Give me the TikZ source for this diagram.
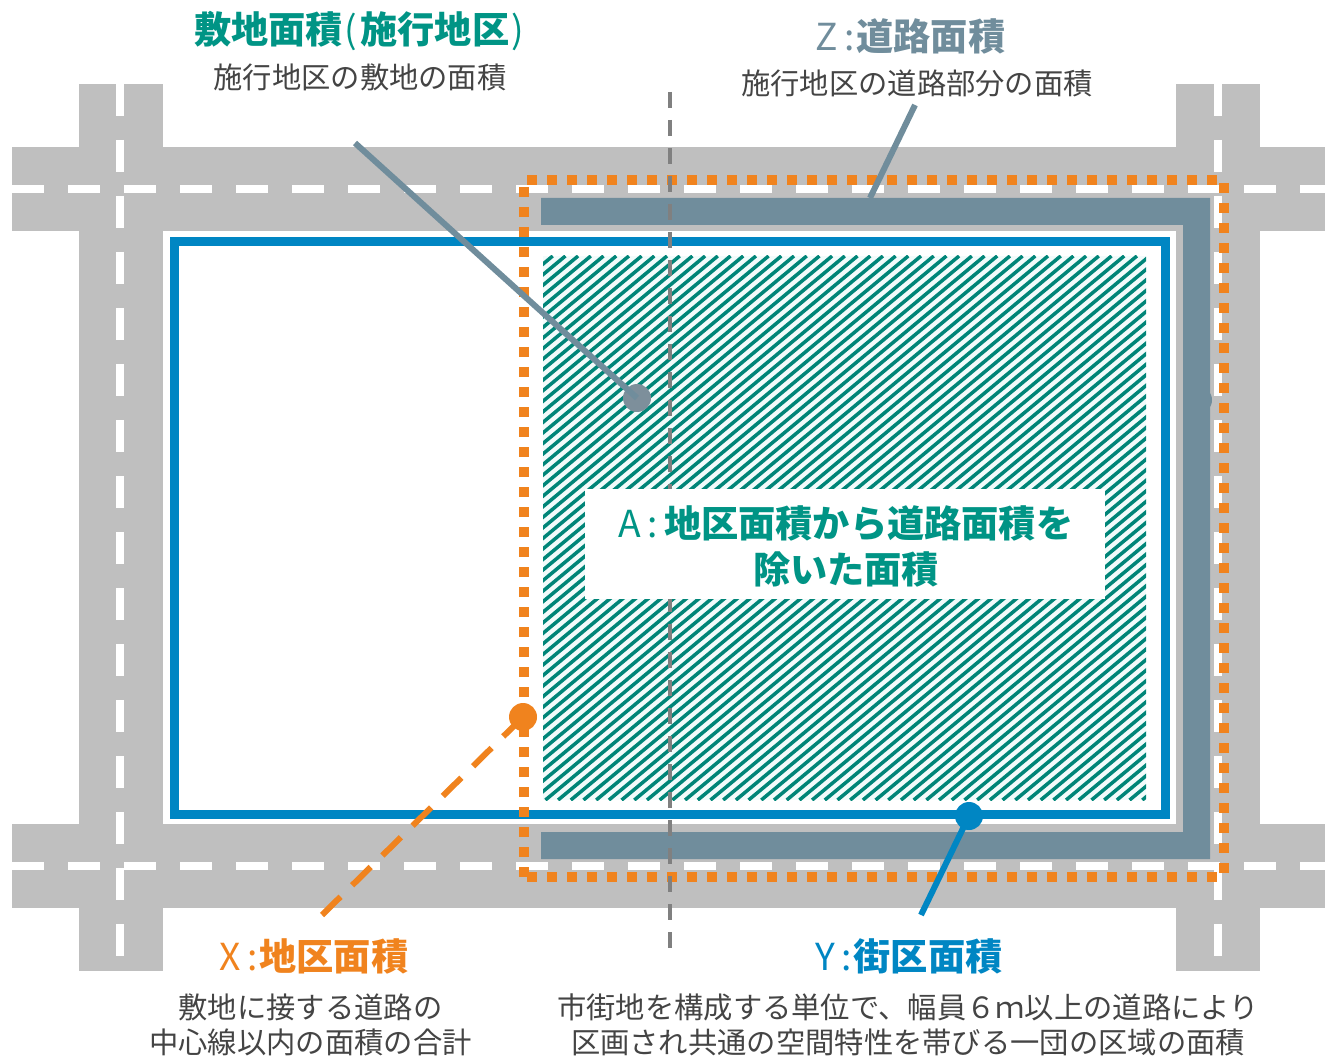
\documentclass[tikz,border=0pt]{standalone}
\usepackage{fontspec}
\setmainfont{Noto Sans CJK JP}
\usepackage{tikz}
\usetikzlibrary{positioning}

\definecolor{roadgray}{HTML}{BFBFBF}
\definecolor{slate}{HTML}{708D9C}
\definecolor{pin}{HTML}{7D8F9B}
\definecolor{district}{HTML}{F0831E}
\definecolor{block}{HTML}{0086C3}
\definecolor{site}{HTML}{009485}
\definecolor{body}{HTML}{444444}
\definecolor{hatchbg}{HTML}{F2FBFB}

\begin{document}
\begin{tikzpicture}[x=1pt,y=-1pt,on grid,
    road/.style={fill=roadgray},
    laneline/.style={white,line width=8pt,dash pattern=on 32pt off 24pt},
    bound/.style={district,line width=10pt,dash pattern=on 10pt off 10pt},
    center_line/.style={gray,line width=4.7pt,dash pattern=on 16pt off 12pt},
    leader/.style={line width=6pt},
    pin_dot/.style={circle,inner sep=0pt,minimum size=28pt},
    heading/.style={inner sep=0pt,font=\fontsize{37.2pt}{46pt}\selectfont,align=center},
    note/.style={inner sep=0pt,text=body,font=\fontsize{29.3pt}{35.5pt}\selectfont,align=center}]
    \useasboundingbox (0,0) rectangle (1325,1056);

    % roads
    \path[road] (12,147) rectangle (1325,231);
    \path[road] (12,824) rectangle (1325,908);
    \path[road] (79,84) rectangle (163,971);
    \path[road] (1176,84) rectangle (1260,971);
    \foreach \y in {189,866}
      \draw[laneline] (12,\y) -- (1325,\y);
    \foreach \x in {120,1218}
      \draw[laneline] (\x,84) -- (\x,971);

    % road area of the district
    \fill[slate] (541,198) -| (1210,859) -| (541,832) -| (1183,225) -| cycle;
    \node[pin_dot,fill=slate] (p_road) at (1198,400) {};

    % block
    \draw[block,line width=9pt] (174.5,242) rectangle (1165.5,814.5);

    % site area
    \fill[hatchbg] (543,256) rectangle (1146,800);
    \begin{scope}
      \clip (543,256) rectangle (1146,800);
      \foreach \i in {0,...,100}
        \draw[site!90!black,line width=3.5pt] ({-115+12.7*\i},800) -- ({540+12.7*\i},256);
    \end{scope}

    % district boundary
    \coordinate (b_tl) at (527,180);
    \coordinate (b_tr) at (1217,180);
    \coordinate (b_bl) at (527,876.7);
    \coordinate (b_br) at (1217,876.7);
    \coordinate (b_lt) at (523.7,187);
    \coordinate (b_lb) at (523.7,877);
    \coordinate (b_rt) at (1223.7,183);
    \coordinate (b_rb) at (1223.7,873);
    \draw[bound] (b_tl) -- (b_tr);
    \draw[bound] (b_bl) -- (b_br);
    \draw[bound] (b_lt) -- (b_lb);
    \draw[bound] (b_rt) -- (b_rb);

    \coordinate (c_top) at (670,92);
    \coordinate (c_bot) at (670,948);
    \draw[center_line] (c_top) -- (c_bot);

    % labels
    \node[fill=white,minimum width=520pt,minimum height=110pt,inner sep=0pt] (a_box) at (845,544) {};
    \node[heading,text=site] (t_area) at (846,546) {A\,:\,\textbf{地区面積から道路面積を}\\\textbf{除いた面積}};

    \node[heading,text=site] (t_site) at (359,31) {\textbf{敷地面積}\kern2pt(\kern3pt\textbf{施行地区}\kern2pt)};
    \node[note] (n_site) [below=46pt of t_site,xshift=1pt] {施行地区の敷地の面積};
    \node[heading,text=slate] (t_road) at (910.5,36) {Z\,:\kern2pt\textbf{道路面積}};
    \node[note] (n_road) [below=47pt of t_road,xshift=6.5pt] {施行地区の道路部分の面積};
    \node[heading,text=district] (t_dist) at (314,956) {X\,:\kern2pt\textbf{地区面積}};
    \node[note] (n_dist) [below=69pt of t_dist,xshift=-3.5pt] {敷地に接する道路の\\中心線以内の面積の合計};
    \node[heading,text=block] (t_block) at (909,956) {Y\,:\kern2pt\textbf{街区面積}};
    \node[note] (n_block) [below=69pt of t_block,xshift=-1pt] {市街地を構成する単位で、幅員６ｍ以上の道路により\\区画され共通の空間特性を帯びる一団の区域の面積};

    % leaders
    \coordinate (l_site) at (355,143);
    \coordinate (l_road) at (915,105);
    \coordinate (l_bar) at (870,198);
    \coordinate (l_dist) at (322,915);
    \coordinate (l_block) at (921,915);
    \node[pin_dot,fill=pin] (p_site) at (637,398) {};
    \node[pin_dot,fill=district] (p_dist) at (523,717) {};
    \node[pin_dot,fill=block] (p_block) at (969,816) {};
    \draw[leader,slate] (l_site) -- (p_site.center);
    \draw[leader,slate] (l_road) -- (l_bar);
    \draw[leader,block] (l_block) -- (p_block.center);
    \draw[district,line width=6pt,dash pattern=on 26pt off 16.4pt] (l_dist) -- (p_dist.center);
\end{tikzpicture}
\end{document}
